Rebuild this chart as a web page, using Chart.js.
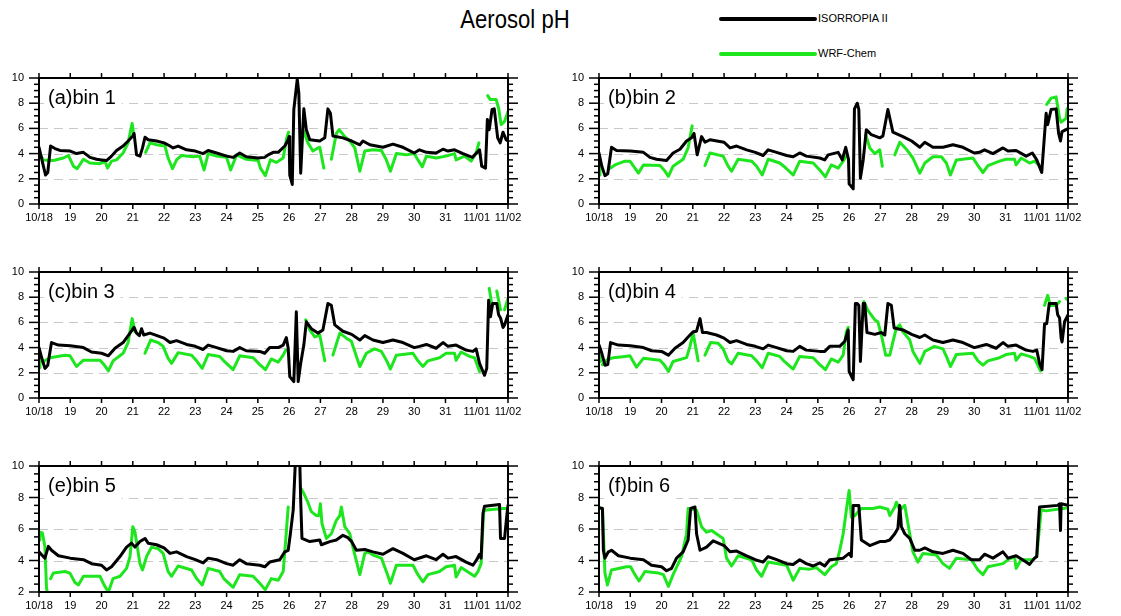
<!DOCTYPE html>
<html>
<head>
<meta charset="utf-8">
<script src="https://cdn.jsdelivr.net/npm/chart.js@4.4.0/dist/chart.umd.min.js"></script>
<style>
  body { margin: 0; width: 1121px; height: 616px; background: #fff; position: relative; overflow: hidden;
         font-family: 'Liberation Sans', Arial, sans-serif; }
  canvas { position: absolute; }
  .title { position: absolute; left: 515px; top: 6px; font-size: 26px; line-height: 26px; white-space: nowrap;
           transform: translateX(-50%) scaleX(0.85); }
  .key-line { position: absolute; left: 719px; width: 98px; height: 4px; border-radius: 2px; }
  .key-text { position: absolute; left: 818px; font-size: 11px; line-height: 13px; white-space: nowrap; }
</style>
</head>
<body>
<div class="title">Aerosol pH</div>
<div class="key-line" style="top:17px;background:#000;"></div>
<div class="key-text" style="top:12px;">ISORROPIA II</div>
<div class="key-line" style="top:52px;background:#1ee61e;"></div>
<div class="key-text" style="top:47px;">WRF-Chem</div>

<script>
// x = days since 10/18 00:00
const dayTicks = ['10/18','19','20','21','22','23','24','25','26','27','28','29','30','31','11/01','11/02'];
const panelLabels = ['(a)bin 1','(b)bin 2','(c)bin 3','(d)bin 4','(e)bin 5','(f)bin 6'];
const yMins = [0, 0, 0, 0, 2, 2];

const isoBin1 = [[0,4.5],[0.14,3.0],[0.21,2.3],[0.28,2.5],[0.37,4.6],[0.51,4.4],[0.67,4.25],[1.0,4.2],[1.2,4.0],[1.42,4.1],[1.63,3.7],[1.84,3.55],[2.0,3.5],[2.16,3.45],[2.32,3.8],[2.48,4.25],[2.69,4.6],[2.85,5.0],[3.0,5.4],[3.04,5.6],[3.12,3.9],[3.23,3.8],[3.31,4.45],[3.39,5.3],[3.49,5.1],[3.76,5.0],[4.0,4.85],[4.19,4.6],[4.29,4.45],[4.45,4.6],[4.72,4.3],[5.0,4.2],[5.25,4.0],[5.41,4.25],[5.68,4.05],[6.0,3.8],[6.21,3.7],[6.42,4.05],[6.63,3.75],[7.0,3.65],[7.22,3.7],[7.33,3.9],[7.49,4.1],[7.65,4.1],[7.86,4.6],[7.97,5.1],[8.0,5.35],[8.02,2.3],[8.1,1.55],[8.15,7.5],[8.26,9.9],[8.31,8.8],[8.37,2.45],[8.47,7.55],[8.55,5.9],[8.66,5.1],[8.98,5.0],[9.14,5.25],[9.24,7.55],[9.32,7.2],[9.4,5.4],[9.72,5.25],[10.0,5.0],[10.26,4.7],[10.36,5.0],[10.58,4.7],[11.0,4.5],[11.32,4.75],[11.64,4.5],[12.0,4.05],[12.17,4.3],[12.39,4.1],[12.7,4.05],[12.92,4.35],[13.08,4.2],[13.29,4.3],[13.56,4.0],[13.86,3.7],[14.09,4.3],[14.16,3.0],[14.28,2.85],[14.34,6.7],[14.4,5.9],[14.49,7.5],[14.56,7.55],[14.67,5.25],[14.75,4.85],[14.84,5.7],[14.94,5.1],[15.0,5.0]];
const wrfBin1 = [[0,4.05],[0.14,3.5],[0.46,3.45],[0.78,3.65],[0.94,3.85],[1.1,3.0],[1.22,2.8],[1.42,3.55],[1.63,3.25],[1.95,3.2],[2.11,3.4],[2.19,2.85],[2.32,3.4],[2.48,3.5],[2.69,4.05],[2.85,4.85],[2.98,6.4],[3.04,5.35],[3.2,null],[3.41,4.1],[3.55,4.85],[3.76,4.7],[4.03,4.6],[4.13,3.65],[4.27,2.8],[4.4,3.5],[4.56,3.85],[4.93,3.75],[5.14,3.8],[5.28,2.7],[5.41,4.0],[5.68,3.8],[6.0,3.7],[6.13,2.7],[6.32,3.9],[6.63,3.55],[7.01,3.45],[7.08,2.85],[7.24,2.25],[7.4,3.5],[7.59,3.3],[7.81,3.65],[7.91,5.1],[7.98,5.7],[8.2,null],[8.47,5.75],[8.6,4.85],[8.76,4.2],[8.92,4.45],[8.98,4.5],[9.11,2.85],[9.25,null],[9.35,3.55],[9.51,5.6],[9.6,5.9],[9.78,5.35],[9.94,5.0],[10.1,4.45],[10.26,2.6],[10.42,4.2],[10.68,4.3],[10.95,4.25],[11.11,3.5],[11.24,2.6],[11.43,4.0],[11.75,3.9],[12.0,4.0],[12.12,3.5],[12.26,2.95],[12.39,3.8],[12.7,3.65],[13.02,3.8],[13.29,4.0],[13.34,3.5],[13.61,3.8],[13.82,3.4],[13.98,4.05],[14.07,4.85],[14.2,null],[14.35,8.6],[14.43,8.3],[14.62,8.3],[14.7,7.6],[14.78,6.3],[14.89,6.55],[15.0,7.35]];

const isoBin2 = [[0,4.05],[0.09,3.0],[0.19,2.25],[0.28,2.4],[0.4,4.5],[0.56,4.25],[1.0,4.2],[1.42,4.1],[1.63,3.7],[1.84,3.55],[2.16,3.45],[2.37,4.05],[2.59,4.35],[2.8,5.0],[2.96,5.25],[3.04,5.6],[3.14,3.9],[3.28,5.35],[3.39,4.9],[3.55,5.1],[4.0,4.9],[4.19,4.45],[4.4,4.6],[4.72,4.3],[5.0,4.1],[5.25,3.85],[5.41,4.3],[5.68,4.1],[6.0,3.85],[6.21,3.75],[6.42,4.05],[6.63,3.8],[7.06,3.65],[7.22,3.5],[7.33,3.9],[7.65,4.1],[7.78,3.5],[7.89,4.5],[7.98,3.55],[8.0,1.6],[8.13,1.2],[8.17,7.55],[8.26,8.0],[8.31,7.5],[8.36,2.05],[8.45,3.5],[8.55,5.9],[8.71,5.5],[8.98,5.25],[9.08,5.4],[9.24,7.5],[9.4,5.7],[9.72,5.35],[10.0,5.0],[10.26,4.5],[10.42,4.9],[10.68,4.5],[11.0,4.5],[11.32,4.7],[11.64,4.5],[12.0,4.05],[12.17,4.1],[12.33,4.3],[12.6,4.0],[12.92,4.45],[13.08,4.2],[13.34,4.25],[13.66,3.8],[13.86,4.05],[14.0,3.5],[14.16,2.5],[14.3,7.2],[14.35,6.3],[14.46,7.5],[14.62,7.55],[14.7,5.6],[14.76,5.0],[14.81,5.75],[14.94,5.9],[15.0,6.0]];
const wrfBin2 = [[0,3.5],[0.03,2.3],[0.2,null],[0.37,2.85],[0.51,3.1],[0.83,3.4],[0.99,3.4],[1.15,2.85],[1.26,2.45],[1.42,3.1],[1.95,3.05],[2.08,2.7],[2.22,2.2],[2.37,3.0],[2.69,3.55],[2.85,4.45],[2.98,6.2],[3.2,null],[3.39,3.05],[3.55,4.05],[3.97,3.8],[4.13,3.0],[4.24,2.6],[4.45,3.55],[4.88,3.4],[5.04,3.0],[5.22,2.3],[5.41,3.55],[5.78,3.25],[5.91,3.0],[6.21,2.3],[6.42,3.4],[6.85,3.25],[7.06,2.7],[7.24,2.15],[7.43,3.1],[7.65,2.85],[7.81,3.4],[7.91,3.8],[8.2,null],[8.53,5.5],[8.66,4.45],[8.82,4.0],[8.98,4.3],[9.06,3.0],[9.25,null],[9.46,3.9],[9.62,4.9],[9.83,4.35],[10.04,3.65],[10.26,2.45],[10.42,3.25],[10.68,3.75],[10.95,3.75],[11.11,3.25],[11.24,2.3],[11.43,3.5],[11.96,3.65],[12.12,3.05],[12.28,2.5],[12.44,3.05],[12.81,3.4],[13.02,3.55],[13.29,3.55],[13.34,3.1],[13.5,3.65],[13.77,3.25],[13.93,3.4],[14.09,3.05],[14.2,null],[14.32,7.9],[14.46,8.4],[14.62,8.5],[14.73,6.8],[14.78,6.5],[14.94,6.8],[14.97,7.55]];

const isoBin3 = [[0,4.0],[0.09,3.15],[0.19,2.35],[0.28,2.6],[0.4,4.4],[0.62,4.2],[1.0,4.15],[1.42,4.0],[1.68,3.65],[2.0,3.55],[2.22,3.35],[2.43,3.95],[2.69,4.4],[2.91,5.15],[3.04,5.6],[3.12,5.15],[3.21,4.95],[3.28,5.5],[3.35,5.0],[3.55,5.15],[4.0,4.75],[4.19,4.4],[4.4,4.55],[4.72,4.25],[5.0,4.1],[5.25,3.85],[5.41,4.2],[5.68,4.0],[6.0,3.75],[6.21,3.7],[6.42,4.0],[6.63,3.75],[7.06,3.7],[7.22,3.55],[7.38,4.0],[7.65,4.0],[7.81,4.2],[7.91,4.8],[7.97,3.95],[8.02,1.7],[8.15,1.3],[8.23,6.85],[8.29,1.3],[8.37,2.75],[8.47,4.2],[8.55,6.05],[8.71,5.5],[8.92,5.15],[9.08,5.4],[9.24,7.5],[9.35,7.35],[9.46,5.8],[9.72,5.3],[10.0,5.05],[10.26,4.6],[10.42,4.95],[10.68,4.6],[11.0,4.4],[11.32,4.6],[11.64,4.4],[12.0,4.0],[12.17,4.1],[12.39,4.25],[12.7,3.95],[12.92,4.4],[13.08,4.1],[13.34,4.2],[13.66,3.8],[13.88,3.7],[13.98,3.9],[14.09,2.75],[14.25,1.8],[14.32,2.35],[14.38,7.75],[14.44,6.45],[14.51,7.5],[14.64,7.5],[14.7,6.6],[14.76,6.35],[14.84,5.6],[14.89,5.8],[15.0,6.6]];
const wrfBin3 = [[0,3.4],[0.03,2.4],[0.07,null],[0.11,2.9],[0.14,2.9],[0.35,3.2],[0.83,3.4],[0.99,3.35],[1.2,2.5],[1.42,3.0],[1.95,3.0],[2.08,2.65],[2.22,2.15],[2.37,2.95],[2.69,3.55],[2.85,4.4],[2.98,6.3],[3.07,5.25],[3.2,null],[3.39,3.55],[3.57,4.6],[3.81,4.4],[3.97,4.1],[4.13,3.15],[4.24,2.75],[4.45,3.6],[4.88,3.4],[5.04,2.95],[5.22,2.35],[5.41,3.45],[5.78,3.3],[5.91,2.95],[6.21,2.25],[6.42,3.35],[6.85,3.2],[7.06,2.65],[7.24,2.25],[7.43,3.1],[7.65,2.85],[7.81,3.4],[7.89,3.8],[8.2,null],[8.53,6.2],[8.66,5.4],[8.82,4.85],[8.98,5.0],[9.14,2.95],[9.25,null],[9.4,3.4],[9.62,5.15],[9.83,4.75],[9.99,4.5],[10.26,2.5],[10.47,3.55],[10.73,3.9],[10.95,3.7],[11.11,3.0],[11.24,2.3],[11.43,3.4],[11.96,3.55],[12.12,2.95],[12.28,2.5],[12.44,2.95],[12.81,3.2],[13.02,3.55],[13.29,3.55],[13.34,3.0],[13.5,3.65],[13.77,3.3],[13.93,3.2],[14.09,2.1],[14.2,null],[14.4,8.7],[14.49,7.3],[14.55,null],[14.64,8.5],[14.76,7.0],[14.82,null],[14.89,7.0],[15.0,7.9]];

const isoBin4 = [[0,4.2],[0.09,3.55],[0.19,2.6],[0.28,2.65],[0.37,4.4],[0.62,4.2],[1.0,4.15],[1.42,4.0],[1.68,3.75],[2.0,3.7],[2.22,3.4],[2.43,3.95],[2.69,4.4],[2.91,5.0],[3.01,5.25],[3.12,5.3],[3.23,6.3],[3.31,5.2],[3.44,5.2],[3.76,5.0],[4.0,4.75],[4.19,4.4],[4.4,4.55],[4.72,4.25],[5.0,4.1],[5.25,3.9],[5.41,4.2],[5.68,4.0],[6.0,3.75],[6.21,3.7],[6.42,4.1],[6.63,3.8],[7.06,3.7],[7.22,3.7],[7.38,4.1],[7.7,4.1],[7.86,4.5],[7.97,5.4],[8.0,2.1],[8.13,1.45],[8.2,7.5],[8.26,7.5],[8.31,7.35],[8.36,2.9],[8.45,7.5],[8.5,7.5],[8.57,5.2],[8.82,5.05],[9.03,5.2],[9.14,5.0],[9.24,7.5],[9.35,7.35],[9.44,5.55],[9.72,5.4],[10.0,5.05],[10.26,4.8],[10.42,5.0],[10.68,4.6],[11.0,4.4],[11.32,4.6],[11.64,4.4],[12.0,4.0],[12.39,4.25],[12.7,3.95],[12.92,4.4],[13.08,4.1],[13.34,4.2],[13.66,3.8],[13.88,3.7],[14.0,3.8],[14.09,2.75],[14.17,2.25],[14.25,5.9],[14.32,5.9],[14.4,7.5],[14.62,7.5],[14.67,6.6],[14.73,6.35],[14.78,4.75],[14.81,4.45],[14.89,6.05],[15.0,6.6]];
const wrfBin4 = [[0,3.55],[0.05,2.9],[0.08,null],[0.11,2.65],[0.24,3.0],[0.46,3.2],[0.83,3.3],[0.99,3.35],[1.2,2.45],[1.42,3.15],[1.95,3.0],[2.08,2.65],[2.22,2.1],[2.37,2.9],[2.8,3.2],[2.91,4.1],[3.01,5.15],[3.17,2.95],[3.3,null],[3.39,3.4],[3.57,4.4],[3.81,4.35],[3.97,3.9],[4.13,2.95],[4.24,2.7],[4.45,3.55],[4.88,3.35],[5.04,2.95],[5.22,2.4],[5.41,3.55],[5.78,3.3],[5.91,2.95],[6.21,2.3],[6.42,3.3],[6.85,3.2],[7.06,2.65],[7.24,2.25],[7.43,3.1],[7.65,2.85],[7.81,3.4],[7.91,5.25],[7.97,5.6],[8.2,null],[8.47,7.65],[8.6,6.95],[8.82,6.2],[8.92,6.05],[9.03,5.0],[9.17,3.4],[9.3,3.4],[9.4,4.45],[9.51,5.55],[9.62,5.8],[9.72,5.25],[9.94,4.6],[10.04,3.7],[10.26,2.75],[10.42,3.7],[10.73,4.1],[11.0,3.9],[11.11,3.3],[11.24,2.5],[11.43,3.45],[11.96,3.55],[12.12,2.95],[12.28,2.6],[12.44,2.95],[12.81,3.2],[13.02,3.45],[13.29,3.55],[13.34,3.0],[13.5,3.5],[13.77,3.3],[13.93,3.15],[14.12,2.15],[14.18,null],[14.25,7.35],[14.35,8.15],[14.43,7.35],[14.62,7.35],[14.73,7.65],[14.8,null],[14.94,7.9],[14.96,7.85]];

const isoBin5 = [[0,4.55],[0.09,4.35],[0.19,4.15],[0.3,4.9],[0.4,4.65],[0.62,4.3],[1.0,4.15],[1.42,4.05],[1.68,3.8],[2.0,3.7],[2.16,3.4],[2.32,3.6],[2.59,4.25],[2.8,4.85],[2.96,5.1],[3.07,4.85],[3.23,5.2],[3.39,5.4],[3.49,5.1],[3.76,5.0],[4.0,4.8],[4.19,4.45],[4.4,4.55],[4.72,4.25],[5.0,4.05],[5.25,3.85],[5.41,4.15],[5.68,4.05],[6.0,3.8],[6.21,3.7],[6.42,4.05],[6.63,3.8],[7.06,3.7],[7.22,3.6],[7.38,3.9],[7.7,4.05],[7.86,4.55],[7.97,4.65],[8.04,5.7],[8.13,7.2],[8.2,10.3],[8.26,10.3],[8.34,10.3],[8.37,7.8],[8.41,5.4],[8.66,5.2],[8.98,5.3],[9.03,5.0],[9.3,5.2],[9.51,5.3],[9.72,5.6],[9.88,5.45],[10.0,5.2],[10.15,4.65],[10.42,4.7],[10.68,4.55],[11.0,4.4],[11.32,4.75],[11.64,4.45],[12.0,4.05],[12.39,4.3],[12.7,4.05],[12.92,4.4],[13.08,4.15],[13.34,4.25],[13.66,3.9],[13.88,3.7],[14.0,4.05],[14.09,4.4],[14.14,4.15],[14.2,7.0],[14.25,7.45],[14.73,7.55],[14.76,5.4],[14.89,5.4],[14.97,7.0],[15.0,7.5]];
const wrfBin5 = [[0,5.3],[0.03,5.8],[0.11,5.75],[0.19,4.85],[0.24,2.25],[0.3,1.7],[0.33,null],[0.37,2.85],[0.46,3.2],[0.83,3.3],[0.99,3.2],[1.15,2.6],[1.26,2.45],[1.42,3.0],[1.95,3.0],[2.08,2.45],[2.22,2.0],[2.37,2.85],[2.59,3.0],[2.8,3.5],[2.91,4.25],[3.0,6.15],[3.07,5.8],[3.23,3.8],[3.31,3.4],[3.44,4.25],[3.6,4.85],[3.81,4.75],[3.97,4.45],[4.13,3.3],[4.24,3.0],[4.45,3.65],[4.88,3.4],[5.04,2.85],[5.22,2.45],[5.41,3.5],[5.78,3.3],[5.91,2.85],[6.21,2.3],[6.42,3.1],[6.85,3.0],[7.06,2.55],[7.24,2.15],[7.43,2.85],[7.65,2.75],[7.81,3.3],[7.91,5.8],[7.97,7.4],[8.1,null],[8.39,8.55],[8.47,8.25],[8.6,7.7],[8.71,7.1],[8.87,6.85],[8.95,6.85],[9.0,7.6],[9.05,6.35],[9.19,5.4],[9.35,5.7],[9.51,6.55],[9.62,6.85],[9.67,7.4],[9.78,6.15],[9.94,5.7],[10.04,4.85],[10.26,3.1],[10.42,4.45],[10.52,4.55],[10.68,4.35],[10.95,4.15],[11.11,3.3],[11.24,2.55],[11.43,3.7],[11.96,3.7],[12.12,3.1],[12.28,2.65],[12.44,3.1],[12.81,3.3],[13.02,3.6],[13.29,3.7],[13.34,2.95],[13.5,3.55],[13.77,3.2],[13.93,3.0],[14.04,3.3],[14.14,3.8],[14.22,7.1],[14.3,7.2],[14.84,7.3],[15.0,7.3]];

const isoBin6 = [[0,7.35],[0.11,7.3],[0.14,4.65],[0.19,4.15],[0.3,4.55],[0.4,4.65],[0.62,4.3],[1.0,4.15],[1.42,4.05],[1.68,3.7],[2.0,3.6],[2.16,3.35],[2.32,3.5],[2.48,4.15],[2.69,4.55],[2.85,5.3],[2.93,7.3],[3.07,7.4],[3.12,5.7],[3.23,4.65],[3.44,4.85],[3.65,5.25],[4.0,4.95],[4.19,4.55],[4.4,4.6],[4.72,4.3],[5.0,4.05],[5.25,3.9],[5.41,4.25],[5.68,4.05],[6.0,3.8],[6.21,3.75],[6.42,4.05],[6.63,3.8],[6.85,3.65],[7.06,3.85],[7.22,3.65],[7.38,4.05],[7.81,4.15],[8.0,4.45],[8.07,4.25],[8.13,7.5],[8.31,7.5],[8.39,5.3],[8.66,4.95],[8.98,5.2],[9.14,5.2],[9.3,5.3],[9.46,5.7],[9.56,6.05],[9.62,7.5],[9.67,6.15],[9.78,5.7],[9.94,5.4],[10.1,4.65],[10.26,4.65],[10.42,4.8],[10.68,4.55],[11.0,4.45],[11.32,4.65],[11.64,4.45],[11.91,4.05],[12.17,4.05],[12.33,4.4],[12.6,4.15],[12.92,4.55],[13.08,4.15],[13.34,4.3],[13.66,3.9],[13.77,3.75],[13.93,4.15],[14.0,4.25],[14.09,7.4],[14.67,7.5],[14.73,7.6],[14.76,5.9],[14.78,7.6],[15.0,7.5]];
const wrfBin6 = [[0,7.35],[0.11,7.3],[0.19,3.2],[0.27,2.45],[0.4,3.4],[0.88,3.6],[1.01,3.6],[1.15,3.1],[1.28,2.7],[1.47,3.3],[1.9,3.2],[2.06,3.1],[2.22,2.35],[2.37,3.1],[2.64,4.25],[2.8,5.7],[2.85,7.3],[3.12,7.2],[3.28,6.15],[3.44,5.8],[3.6,5.9],[3.97,5.4],[4.08,4.15],[4.24,3.65],[4.45,4.3],[4.88,4.05],[5.04,3.4],[5.2,3.0],[5.41,3.9],[6.0,3.7],[6.21,2.75],[6.42,3.5],[6.74,3.45],[6.95,3.55],[7.22,3.1],[7.43,3.6],[7.59,3.8],[7.7,4.65],[7.81,5.7],[7.91,7.2],[8.0,8.45],[8.07,6.75],[8.18,6.85],[8.39,7.3],[8.76,7.3],[8.98,7.4],[9.24,7.25],[9.3,6.85],[9.46,7.4],[9.51,7.7],[9.62,7.2],[9.78,7.5],[9.88,6.35],[10.04,4.55],[10.2,3.9],[10.36,4.45],[10.79,4.35],[11.0,3.8],[11.21,3.5],[11.43,4.15],[11.91,4.05],[12.12,3.4],[12.28,3.1],[12.44,3.6],[12.92,3.8],[13.08,4.05],[13.29,4.25],[13.34,3.5],[13.5,4.05],[13.88,4.05],[14.0,4.25],[14.14,7.2],[14.3,7.15],[15.0,7.35]];

const isoSeries = [isoBin1, isoBin2, isoBin3, isoBin4, isoBin5, isoBin6];
const wrfSeries = [wrfBin1, wrfBin2, wrfBin3, wrfBin4, wrfBin5, wrfBin6];

const FONT = '"Liberation Sans", Arial, sans-serif';

// frame, ticks, dashed grid and panel label, NCL style
const framePlugin = {
    id: 'frame',
    beforeDatasetsDraw(chart, args, opts) {
        const { ctx, chartArea: a, scales: { y } } = chart;
        ctx.save();
        ctx.strokeStyle = '#c8c8c8';
        ctx.lineWidth = 1;
        ctx.setLineDash([9, 6]);
        for (let v = y.min + 2; v < y.max; v += 2) {
            const py = Math.round(y.getPixelForValue(v)) + 0.5;
            ctx.beginPath(); ctx.moveTo(a.left, py); ctx.lineTo(a.right, py); ctx.stroke();
        }
        ctx.setLineDash([]);
        ctx.font = '20px ' + FONT;
        const w = ctx.measureText(opts.label).width;
        ctx.fillStyle = '#fff';
        ctx.fillRect(a.left + 5, a.top + 5, w + 10, 30);
        ctx.fillStyle = '#000';
        ctx.textBaseline = 'middle';
        ctx.fillText(opts.label, a.left + 9, a.top + 20);
        ctx.restore();
    },
    afterDatasetsDraw(chart) {
        const { ctx, chartArea: a, scales: { x, y } } = chart;
        const seg = (x1, y1, x2, y2) => { ctx.beginPath(); ctx.moveTo(x1, y1); ctx.lineTo(x2, y2); ctx.stroke(); };
        ctx.save();
        ctx.strokeStyle = '#000';
        ctx.lineWidth = 2;
        ctx.strokeRect(a.left, a.top, a.right - a.left, a.bottom - a.top);
        ctx.lineWidth = 1.5;
        for (let v = y.min; v <= y.max + 1e-6; v += 0.5) {
            const py = y.getPixelForValue(v);
            const len = Math.abs(v % 2) < 1e-6 ? 10 : 5;
            seg(a.left - len, py, a.left, py);
            seg(a.right, py, a.right + len, py);
        }
        for (let d = 0; d < dayTicks.length; d++) {
            const px = x.getPixelForValue(d);
            seg(px, a.top - 5, px, a.top);
            seg(px, a.bottom, px, a.bottom + 5);
        }
        ctx.fillStyle = '#000';
        ctx.font = '11px ' + FONT;
        ctx.textBaseline = 'middle';
        ctx.textAlign = 'right';
        for (let v = y.min; v <= y.max; v += 2) ctx.fillText(String(v), a.left - 15, y.getPixelForValue(v));
        ctx.textAlign = 'center';
        dayTicks.forEach((t, i) => ctx.fillText(t, x.getPixelForValue(i), a.bottom + 14));
        ctx.restore();
    }
};

const toXY = arr => arr.map(p => ({ x: p[0], y: p[1] }));

const plotTops = [78, 272, 466];
const plotLefts = [39, 599];
const plotW = 469, plotH = 126;

for (let i = 0; i < 6; i++) {
    const col = i % 2, row = Math.floor(i / 2);
    const cv = document.createElement('canvas');
    const cLeft = col * 560, cTop = plotTops[row] - 30;
    cv.width = 560; cv.height = 184;
    cv.style.left = cLeft + 'px';
    cv.style.top = cTop + 'px';
    document.body.appendChild(cv);

    const padLeft = plotLefts[col] - cLeft;
    new Chart(cv, {
        type: 'line',
        data: {
            datasets: [
                { label: 'ISORROPIA II', data: toXY(isoSeries[i]), borderColor: '#000', borderWidth: 3,
                  pointRadius: 0, order: 0, borderJoinStyle: 'round', borderCapStyle: 'round', clip: 0 },
                { label: 'WRF-Chem', data: toXY(wrfSeries[i]), borderColor: '#1ee61e', borderWidth: 3,
                  pointRadius: 0, order: 1, borderJoinStyle: 'round', borderCapStyle: 'round', clip: 0 }
            ]
        },
        options: {
            responsive: false,
            animation: false,
            spanGaps: false,
            layout: { padding: { left: padLeft, right: 560 - padLeft - plotW, top: 30, bottom: 184 - 30 - plotH } },
            plugins: {
                legend: { display: false },
                tooltip: { enabled: false },
                frame: { label: panelLabels[i] }
            },
            scales: {
                x: { type: 'linear', min: 0, max: 15, display: false },
                y: { min: yMins[i], max: 10, display: false }
            }
        },
        plugins: [framePlugin]
    });
}
</script>
</body>
</html>
